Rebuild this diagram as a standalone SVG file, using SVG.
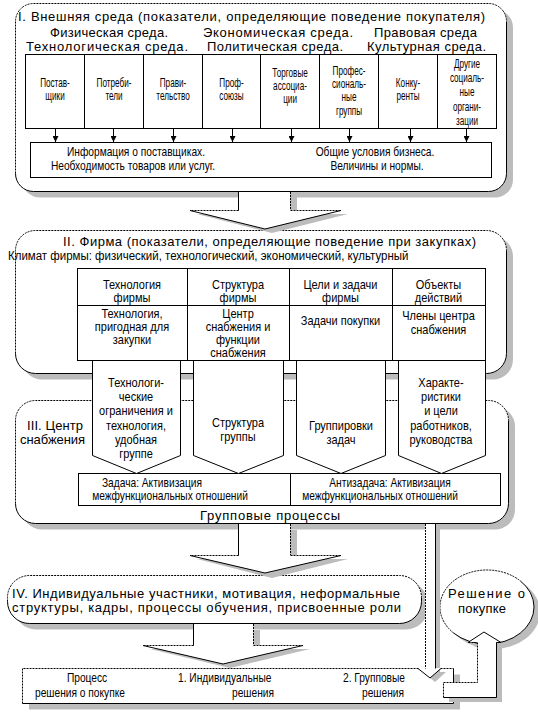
<svg xmlns="http://www.w3.org/2000/svg" width="538" height="712" viewBox="0 0 538 712">
<defs>
<style>
text { font-family: "Liberation Sans", Arial, sans-serif; fill: #000; }
.t { font-size: 13px; }
.te { font-size: 13px; text-anchor: end; }
.tm { font-size: 13px; text-anchor: middle; }
.n1 { font-size: 12px; text-anchor: middle; transform: scaleX(0.68); transform-box: fill-box; transform-origin: center; }
.n2 { font-size: 12px; text-anchor: middle; transform: scaleX(0.85); transform-box: fill-box; transform-origin: center; }
.n2l { font-size: 12px; transform: scaleX(0.85); transform-box: fill-box; transform-origin: 0 50%; }
.n3 { font-size: 12.5px; text-anchor: middle; transform: scaleX(0.88); transform-box: fill-box; transform-origin: center; }
.n3l { font-size: 12.5px; transform: scaleX(0.92); transform-box: fill-box; transform-origin: 0 50%; }
.sh { fill: #bcbcbc; stroke: none; }
.wf { fill: #fff; stroke: none; }
.ln { fill: none; stroke: #000; stroke-width: 1; }
.dt { fill: none; stroke: #000; stroke-width: 1; stroke-dasharray: 2 1; }
.bx { fill: #fff; stroke: #000; stroke-width: 1; }
</style>
<marker id="ah" viewBox="0 0 8 8" refX="8" refY="4" markerWidth="6" markerHeight="6" orient="auto" markerUnits="userSpaceOnUse">
<path d="M0,0 L8,4 L0,8 z" fill="#000"/>
</marker>
</defs>
<rect width="538" height="712" fill="#fff"/>

<g id="section-1">
<rect class="sh" x="22" y="9.5" width="491" height="188" rx="18"/>
<rect class="wf" x="15.5" y="3.5" width="491" height="188" rx="18"/>
<path class="dt" d="M15.5,173.5 V21.5 A18,18 0 0 1 33.5,3.5 H488.5 A18,18 0 0 1 506.5,21.5"/>
<path class="ln" d="M506.5,21.5 V173.5 A18,18 0 0 1 488.5,191.5 H33.5 A18,18 0 0 1 15.5,173.5"/>
<text class="t" x="18" y="21" textLength="467">I. Внешняя среда (показатели, определяющие поведение покупателя)</text>
<text class="t" x="50" y="37" textLength="118">Физическая среда.</text>
<text class="t" x="203" y="37" textLength="150">Экономическая среда.</text>
<text class="t" x="374" y="37" textLength="103">Правовая среда</text>
<text class="t" x="26" y="51" textLength="162">Технологическая среда.</text>
<text class="t" x="207" y="51" textLength="136">Политическая среда.</text>
<text class="t" x="367" y="51" textLength="119">Культурная среда.</text>
<g id="environment-table">
<rect class="bx" x="25.5" y="54.5" width="471" height="74"/>
<path class="ln" d="M84.5,54.5 V128.5 M143.5,54.5 V128.5 M202.5,54.5 V128.5 M260.5,54.5 V128.5 M319.5,54.5 V128.5 M378.5,54.5 V128.5 M437.5,54.5 V128.5"/>
<text class="n1" x="55" y="87">Постав-</text>
<text class="n1" x="55" y="100.5">щики</text>
<text class="n1" x="114" y="87">Потреби-</text>
<text class="n1" x="114" y="100.5">тели</text>
<text class="n1" x="173" y="87">Прави-</text>
<text class="n1" x="173" y="100.5">тельство</text>
<text class="n1" x="231.5" y="87">Проф-</text>
<text class="n1" x="231.5" y="100.5">союзы</text>
<text class="n1" x="290" y="77">Торговые</text>
<text class="n1" x="290" y="90">ассоциа-</text>
<text class="n1" x="290" y="103">ции</text>
<text class="n1" x="349" y="75">Профес-</text>
<text class="n1" x="349" y="88">сиональ-</text>
<text class="n1" x="349" y="101.5">ные</text>
<text class="n1" x="349" y="115">группы</text>
<text class="n1" x="408" y="87">Конку-</text>
<text class="n1" x="408" y="100.5">ренты</text>
<text class="n1" x="467" y="68">Другие</text>
<text class="n1" x="467" y="82">социаль-</text>
<text class="n1" x="467" y="96.5">ные</text>
<text class="n1" x="467" y="111">органи-</text>
<text class="n1" x="467" y="125">зации</text>
</g>
<g id="info-box">
<rect class="bx" x="30.5" y="142.5" width="461" height="35"/>
<text class="n2" x="136" y="156">Информация о поставщиках.</text>
<text class="n2" x="133" y="170">Необходимость товаров или услуг.</text>
<text class="n2" x="375" y="156">Общие условия бизнеса.</text>
<text class="n2" x="377" y="170">Величины и нормы.</text>
</g>
</g>

<g id="section-2">
<rect class="sh" x="22" y="236.5" width="491" height="143" rx="20"/>
<rect class="wf" x="15.5" y="230.5" width="491" height="143" rx="20"/>
<path class="dt" d="M15.5,353.5 V250.5 A20,20 0 0 1 35.5,230.5 H486.5 A20,20 0 0 1 506.5,250.5"/>
<path class="ln" d="M506.5,250.5 V353.5 A20,20 0 0 1 486.5,373.5 H35.5 A20,20 0 0 1 15.5,353.5"/>
<text class="t" x="63" y="246" textLength="413">II. Фирма (показатели, определяющие поведение при закупках)</text>
<text class="n3l" x="8" y="260">Климат фирмы: физический, технологический, экономический, культурный</text>
</g>

<g id="section-3">
<rect class="sh" x="22" y="406.5" width="493" height="123" rx="20"/>
<rect class="wf" x="15.5" y="400.5" width="493" height="123" rx="20"/>
<path class="dt" d="M15.5,503.5 V420.5 A20,20 0 0 1 35.5,400.5 H488.5 A20,20 0 0 1 508.5,420.5"/>
<path class="ln" d="M508.5,420.5 V503.5 A20,20 0 0 1 488.5,523.5 H35.5 A20,20 0 0 1 15.5,503.5"/>
<text class="t" x="27" y="430" textLength="56">III. Центр</text>
<text class="t" x="20" y="444" textLength="65">снабжения</text>
<text class="t" x="200" y="520" textLength="140">Групповые процессы</text>
<g id="task-box">
<rect class="bx" x="78.5" y="473.5" width="422" height="32"/>
<path class="ln" d="M290.5,473.5 V505.5"/>
<text class="n2" x="152" y="487">Задача: Активизация</text>
<text class="n2" x="170" y="500">межфункциональных отношений</text>
<text class="n2" x="390" y="487">Антизадача: Активизация</text>
<text class="n2" x="380" y="500">межфункциональных отношений</text>
</g>
</g>

<g id="firm-table">
<rect class="bx" x="77.5" y="268.5" width="408" height="92"/>
<path class="ln" d="M77.5,305.5 H485.5 M187.5,268.5 V360.5 M289.5,268.5 V360.5 M392.5,268.5 V360.5"/>
<path class="bx" d="M92.5,361 V455.5 L136.5,473.5 L180.5,455.5 V361"/>
<path class="bx" d="M193.5,361 V455.5 L238.5,473.5 L283.5,455.5 V361"/>
<path class="bx" d="M296.5,361 V455.5 L341,473.5 L385.5,455.5 V361"/>
<path class="bx" d="M398.5,361 V455.5 L441.5,473.5 L485.5,455.5 V361"/>
<text class="n3" x="132" y="289">Технология</text>
<text class="n3" x="132" y="302">фирмы</text>
<text class="n3" x="238" y="289">Структура</text>
<text class="n3" x="238" y="302">фирмы</text>
<text class="n3" x="340.5" y="289">Цели и задачи</text>
<text class="n3" x="340.5" y="302">фирмы</text>
<text class="n3" x="438.5" y="289">Объекты</text>
<text class="n3" x="438.5" y="302">действий</text>
<text class="n3" x="132" y="318">Технология,</text>
<text class="n3" x="132" y="331">пригодная для</text>
<text class="n3" x="132" y="344">закупки</text>
<text class="n3" x="238" y="318">Центр</text>
<text class="n3" x="238" y="331">снабжения и</text>
<text class="n3" x="238" y="344">функции</text>
<text class="n3" x="238" y="357">снабжения</text>
<text class="n3" x="340.5" y="325">Задачи покупки</text>
<text class="n3" x="438.5" y="320">Члены центра</text>
<text class="n3" x="438.5" y="334">снабжения</text>
<text class="n3" x="136" y="387">Технологи-</text>
<text class="n3" x="136" y="401">ческие</text>
<text class="n3" x="136" y="415.5">ограничения и</text>
<text class="n3" x="136" y="430">технология,</text>
<text class="n3" x="136" y="444">удобная</text>
<text class="n3" x="136" y="458">группе</text>
<text class="n3" x="238" y="427">Структура</text>
<text class="n3" x="238" y="441">группы</text>
<text class="n3" x="341" y="430">Группировки</text>
<text class="n3" x="341" y="444">задач</text>
<text class="n3" x="441" y="387">Характе-</text>
<text class="n3" x="441" y="401">ристики</text>
<text class="n3" x="441" y="415">и цели</text>
<text class="n3" x="441" y="430">работников,</text>
<text class="n3" x="441" y="444">руководства</text>
</g>

<g id="section-4">
<rect class="sh" x="14" y="581.5" width="414" height="48" rx="22"/>
<rect class="wf" x="7.5" y="575.5" width="414" height="48" rx="22"/>
<path class="dt" d="M7.5,601.5 V597.5 A22,22 0 0 1 29.5,575.5 H399.5 A22,22 0 0 1 421.5,597.5"/>
<path class="ln" d="M421.5,597.5 V601.5 A22,22 0 0 1 399.5,623.5 H29.5 A22,22 0 0 1 7.5,601.5"/>
<text class="t" x="12" y="598" textLength="388">IV. Индивидуальные участники, мотивация, неформальные</text>
<text class="t" x="12" y="612" textLength="389">структуры, кадры, процессы обучения, присвоенные роли</text>
</g>

<g id="decision-process">
<rect class="sh" x="29" y="674.5" width="431" height="35"/>
<rect class="wf" x="22.5" y="668.5" width="431" height="35"/>
<path class="dt" d="M22.5,703.5 V668.5 H453.5"/>
<path class="ln" d="M453.5,668.5 V703.5 H22.5"/>
<text class="n2" x="87" y="682">Процесс</text>
<text class="n2" x="80" y="697">решения о покупке</text>
<text class="n2l" x="178" y="682">1. Индивидуальные</text>
<text class="n2l" x="232" y="697">решения</text>
<text class="n2l" x="343" y="682">2. Групповые</text>
<text class="n2l" x="362" y="697">решения</text>
</g>

<g id="purchase-decision">
<ellipse class="sh" cx="493" cy="612" rx="47" ry="37"/>
<ellipse class="wf" cx="487" cy="607" rx="47" ry="37"/>
<path class="dt" d="M453.8,633.2 A47,37 0 0 1 520.2,580.8"/>
<path class="ln" d="M520.2,580.8 A47,37 0 0 1 453.8,633.2"/>
<text class="t" x="448" y="598" textLength="77">Решение о</text>
<text class="t" x="458" y="613" textLength="48">покупке</text>
</g>

<g id="connectors">
<g id="env-arrows" class="ln">
<path d="M55.5,128.5 V142" marker-end="url(#ah)"/>
<path d="M113.5,128.5 V142" marker-end="url(#ah)"/>
<path d="M173.5,128.5 V142" marker-end="url(#ah)"/>
<path d="M232.5,128.5 V142" marker-end="url(#ah)"/>
<path d="M291.5,128.5 V142" marker-end="url(#ah)"/>
<path d="M349.5,128.5 V142" marker-end="url(#ah)"/>
<path d="M410.5,128.5 V142" marker-end="url(#ah)"/>
<path d="M466.5,128.5 V142" marker-end="url(#ah)"/>
</g>
<g id="arrow-1-2">
<polygon class="sh" points="245,196 245,214 197,214 272,233 348,214 297,214 297,196"/>
<polygon class="wf" points="238,192 238,210 190,210 265,229 341,210 290,210 290,192"/>
<path class="ln" d="M238.5,192 V210.5 M190,210.5 L265,229 L341,210.5"/>
<path class="dt" d="M238.5,210.5 H190 M290.5,210.5 H341 M290.5,192 V210"/>
</g>
<g id="arrow-3-4">
<polygon class="sh" points="245,530 245,559 197,559 272,578 348,559 297,559 297,530"/>
<polygon class="wf" points="238,524 238,555 190,555 265,573 341,555 290,555 290,524"/>
<path class="ln" d="M238.5,524 V555.5 M190,555.5 L265,573 L341,555.5"/>
<path class="dt" d="M238.5,555.5 H190 M290.5,555.5 H341 M290.5,524 V555"/>
</g>
<g id="arrow-4-process">
<polygon class="sh" points="200,630 200,649 150,649 230,668 310,649 260,649 260,630"/>
<polygon class="wf" points="193,624 193,645 143,645 223,664 303,645 253,645 253,624"/>
<path class="ln" d="M193.5,624 V645.5 M143,645.5 L223,664 L303,645.5"/>
<path class="dt" d="M193.5,645.5 H143 M253.5,645.5 H303 M253.5,624 V645"/>
</g>
<g id="arrow-group-processes">
<polygon class="sh" points="430,528 430,672 423,672 435,682 446,672 440,672 440,528"/>
<polygon class="wf" points="425,524 425,668 418,668 430,678 441,668 435,668 435,524"/>
<path class="dt" d="M425.5,524 V668.5"/>
<path class="ln" d="M435.5,524 V668.5 M418,668.5 L430,678 L441,668.5"/>
</g>
<g id="arrow-to-decision">
<polygon class="sh" points="449,687 483,687 483,647 474,647 490,637 507,647 502,647 502,702 449,702"/>
<polygon class="wf" points="443,682 477,682 477,642 468,642 484,632 501,642 496,642 496,697 443,697"/>
<path class="dt" d="M443.5,697.5 V682.5 H477.5 V642.5 H468"/>
<path class="ln" d="M468,642.5 L484,632 L501,642.5 H496.5 V697.5 H443.5"/>
</g>
</g>
</svg>
